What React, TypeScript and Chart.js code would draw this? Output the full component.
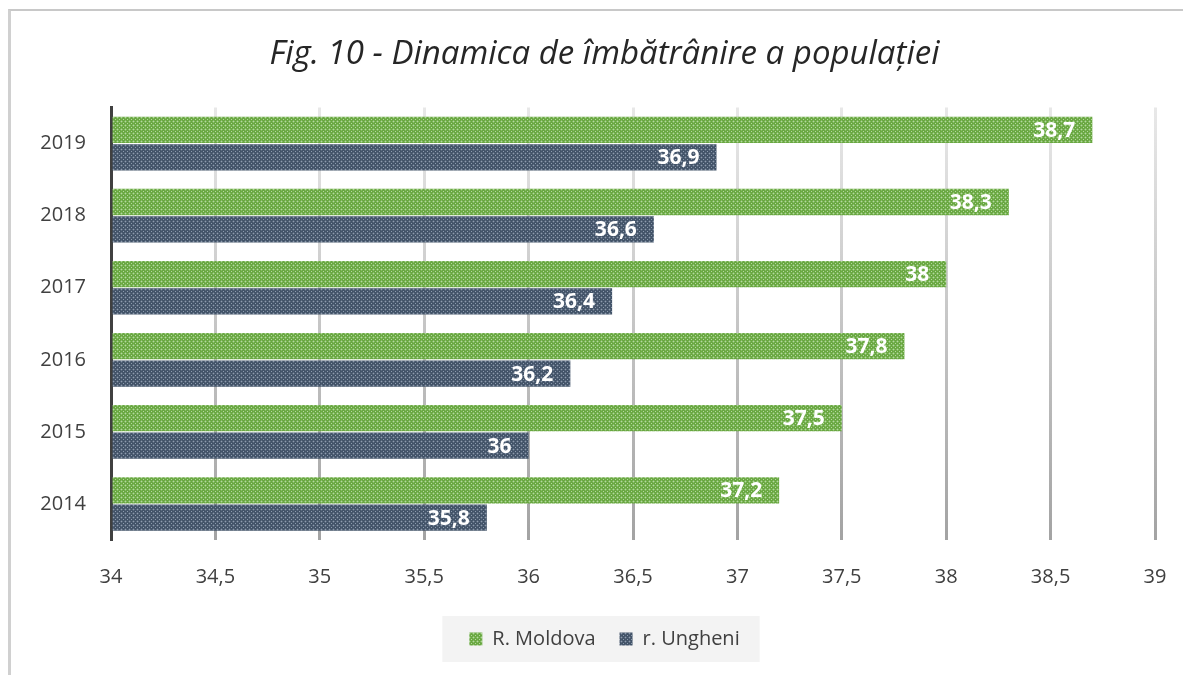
import React, { useEffect, useRef } from 'react';
import { Chart, registerables } from 'chart.js';

Chart.register(...registerables);

const categories = ['2019', '2018', '2017', '2016', '2015', '2014'];
const moldovaValues = [38.7, 38.3, 38, 37.8, 37.5, 37.2];
const ungheniValues = [36.9, 36.6, 36.4, 36.2, 36, 35.8];
const seriesNames = ['R. Moldova', 'r. Ungheni'];
const xMin = 34;
const xMax = 39;
const xStep = 0.5;
const titleText = 'Fig. 10 - Dinamica de îmbătrânire a populației';

const FONT = '"Open Sans", "Noto Sans", sans-serif';
const fmt = (v: number) => String(v).replace('.', ',');

function makePattern(ctx: CanvasRenderingContext2D, base: string, light: string, mid: string) {
  const c = document.createElement('canvas');
  c.width = 4;
  c.height = 4;
  const x = c.getContext('2d')!;
  x.fillStyle = base;
  x.fillRect(0, 0, 4, 4);
  x.fillStyle = mid;
  x.fillRect(1, 0, 1, 1);
  x.fillRect(0, 1, 1, 1);
  x.fillRect(2, 1, 1, 1);
  x.fillRect(1, 2, 1, 1);
  x.fillStyle = light;
  x.fillRect(1, 1, 1, 1);
  x.fillRect(3, 3, 1, 1);
  return ctx.createPattern(c, 'repeat') as CanvasPattern;
}

const barLabelPlugin = {
  id: 'barLabels',
  afterDatasetsDraw(chart: any) {
    const ctx = chart.ctx;
    ctx.save();
    ctx.font = `bold 21px ${FONT}`;
    ctx.fillStyle = '#ffffff';
    ctx.textAlign = 'right';
    ctx.textBaseline = 'middle';
    chart.data.datasets.forEach((ds: any, i: number) => {
      const meta = chart.getDatasetMeta(i);
      meta.data.forEach((el: any, j: number) => {
        ctx.fillText(fmt(ds.data[j]), el.x - 17, el.y + 1);
      });
    });
    ctx.restore();
  },
};

const legendBgPlugin = {
  id: 'legendBg',
  beforeDraw(chart: any) {
    const lg = chart.legend;
    if (!lg || !lg.legendHitBoxes || !lg.legendHitBoxes.length) return;
    const hb = lg.legendHitBoxes;
    const left = hb[0].left - 27;
    const last = hb[hb.length - 1];
    const right = last.left + last.width + 20;
    const cy = hb[0].top + hb[0].height / 2;
    const ctx = chart.ctx;
    ctx.save();
    ctx.fillStyle = '#f3f3f3';
    ctx.fillRect(left, cy - 23, right - left, 46);
    ctx.restore();
  },
};

export default function App() {
  const canvasRef = useRef<HTMLCanvasElement | null>(null);

  useEffect(() => {
    document.body.style.margin = '0';
    const canvas = canvasRef.current!;
    const ctx = canvas.getContext('2d')!;
    const green = makePattern(ctx, '#6aa842', '#b4d99e', '#86bb66');
    const blue = makePattern(ctx, '#435469', '#8d9bae', '#5b6a7e');

    const gridColor = (c: any) => {
      const area = c.chart.chartArea;
      if (!area) return '#cccccc';
      const g = c.chart.ctx.createLinearGradient(0, area.top, 0, area.bottom);
      g.addColorStop(0, '#e8e8e8');
      g.addColorStop(1, '#a3a3a3');
      return g;
    };

    const chart = new Chart(canvas, {
      type: 'bar',
      data: {
        labels: categories,
        datasets: [
          {
            label: seriesNames[0],
            data: moldovaValues,
            backgroundColor: green,
            borderWidth: 0,
            base: xMin,
            categoryPercentage: 0.76,
            barPercentage: 0.96,
          } as any,
          {
            label: seriesNames[1],
            data: ungheniValues,
            backgroundColor: blue,
            borderWidth: 0,
            base: xMin,
            categoryPercentage: 0.76,
            barPercentage: 0.96,
          } as any,
        ],
      },
      options: {
        indexAxis: 'y',
        responsive: false,
        animation: false,
        devicePixelRatio: 1,
        layout: { padding: { top: 0, left: 26, right: 0, bottom: 16 } },
        scales: {
          x: {
            type: 'linear',
            min: xMin,
            max: xMax,
            afterFit: (s: any) => {
              s.height = 65;
            },
            ticks: {
              stepSize: xStep,
              padding: 3,
              color: '#404040',
              font: { family: FONT, size: 20 },
              callback: (v: any) => fmt(Number(v)),
            },
            grid: {
              color: gridColor,
              lineWidth: 3,
              drawTicks: true,
              tickLength: 22,
              tickColor: 'rgba(0,0,0,0)',
            },
            border: { display: false },
          },
          y: {
            z: 1,
            afterFit: (s: any) => {
              s.width = 85;
            },
            ticks: {
              padding: 25,
              color: '#404040',
              font: { family: FONT, size: 20 },
            },
            grid: { display: false, drawTicks: false },
            border: { display: true, color: '#404040', width: 3 },
          },
          yRightSpace: {
            type: 'linear',
            position: 'right',
            display: true,
            afterFit: (s: any) => {
              s.width = 28;
            },
            ticks: { display: false },
            grid: { display: false, drawTicks: false },
            border: { display: false },
          },
        },
        plugins: {
          title: {
            display: true,
            text: titleText,
            color: '#262626',
            font: { family: FONT, size: 33, style: 'italic', weight: 'normal' },
            padding: { top: 35, bottom: 33 },
          },
          legend: {
            display: true,
            position: 'bottom',
            labels: {
              boxWidth: 13,
              boxHeight: 13,
              padding: 24,
              color: '#404040',
              font: { family: FONT, size: 20 },
            },
          },
          tooltip: { enabled: false },
        },
      },
      plugins: [barLabelPlugin, legendBgPlugin],
    });

    return () => {
      chart.destroy();
    };
  }, []);

  return (
    <div style={{ position: 'fixed', left: 0, top: 0, width: 1183, height: 675, background: '#fff', overflow: 'hidden' }}>
      <canvas ref={canvasRef} width={1183} height={675} style={{ display: 'block' }} />
      <div
        style={{
          position: 'absolute',
          left: 8,
          top: 9,
          width: 1200,
          height: 700,
          borderLeft: '3px solid #d0d0d0',
          borderTop: '2px solid #c8c8c8',
          pointerEvents: 'none',
        }}
      />
    </div>
  );
}
